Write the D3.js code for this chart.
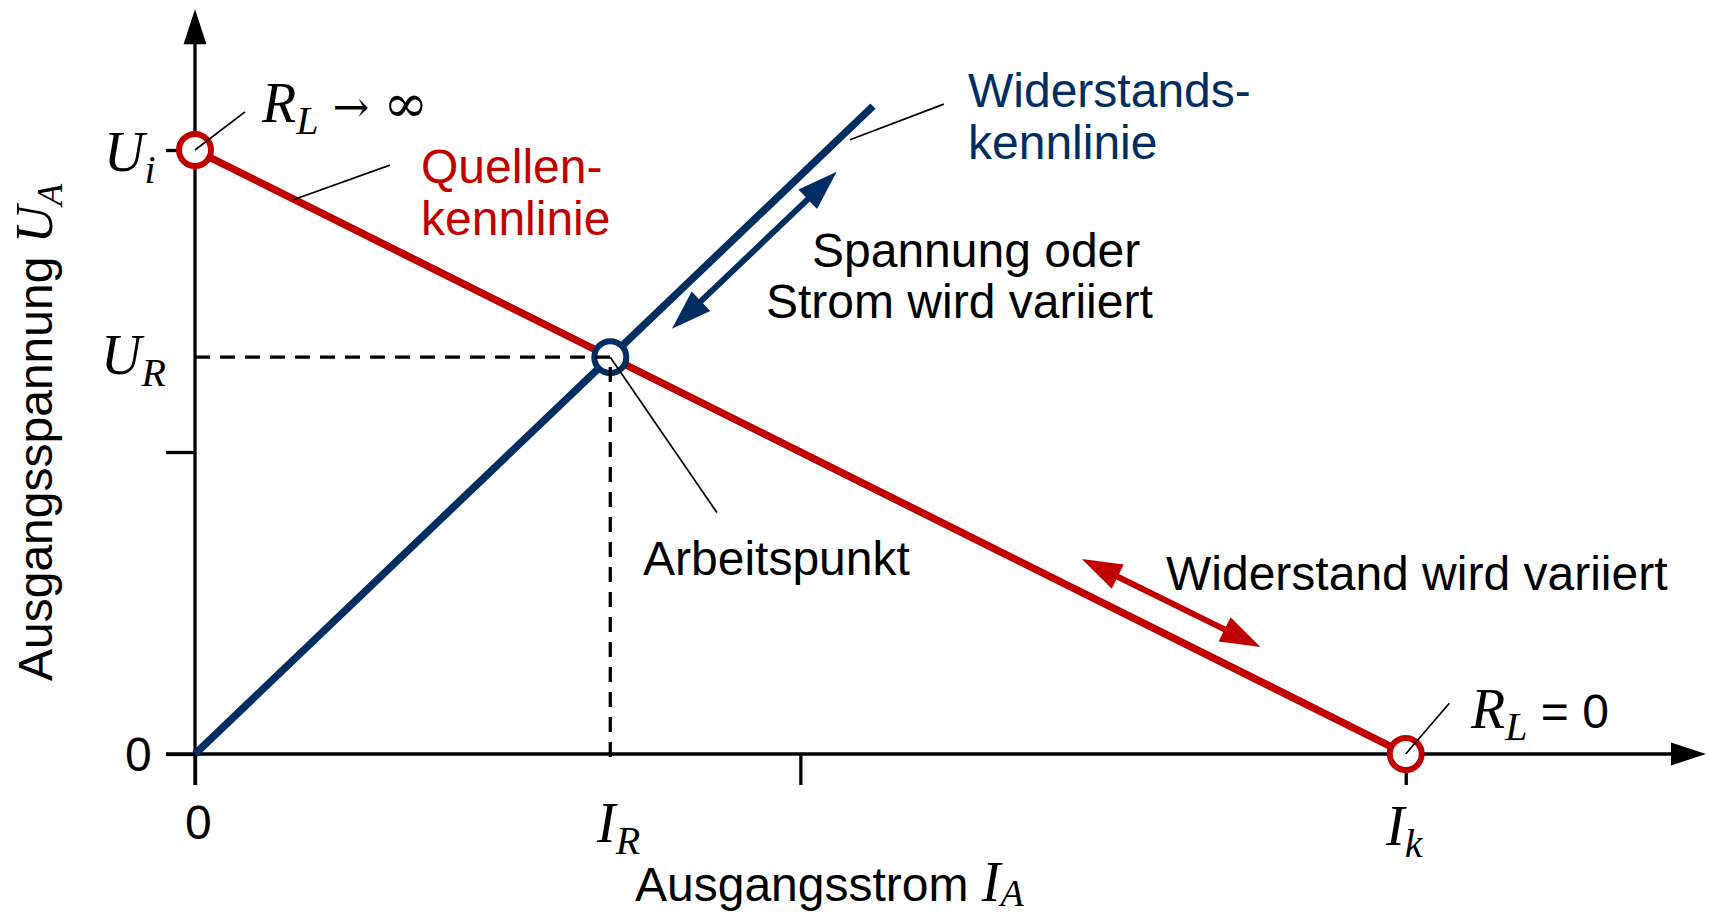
<!DOCTYPE html>
<html><head><meta charset="utf-8">
<script src="https://cdn.jsdelivr.net/npm/d3@7"></script>
<style>body{margin:0;background:#fff;overflow:hidden}</style>
</head><body>
<script>
// ---- data (normalised units: I / I_k, U / U_i) ----
const IR = 0.343, UR = 0.657;
const sourceLine = [[0, 1], [1, 0]];             // Quellenkennlinie
const loadLine = [[0, 0], [0.56, 0.56 * UR / IR]]; // Widerstandskennlinie
const operatingPoint = [IR, UR];                 // Arbeitspunkt
const limitPoints = [[0, 1], [1, 0]];            // R_L -> inf, R_L = 0
const xTickValues = [0, IR, 0.5, 1];
const xTickLabels = [[["0","sans"]], [["I","it"],["R","sub"]], [], [["I","it"],["k","sub"]]];
const yTickValues = [0, 0.5, UR, 1];
const yTickLabels = [[["0","sans"]], [], [["U","it"],["R","sub"]], [["U","it"],["i","sub"]]];
const blueArrow = [[0.394, 0.704], [0.530, 0.964]];
const redArrow = [[0.7325, 0.3228], [0.880, 0.177]];

const RED = "#c00000", BLUE = "#002d62";
const W = 1709, H = 917;
const svg = d3.select("body").append("svg").attr("width", W).attr("height", H);

const x = d3.scaleLinear().domain([0, 1.248]).range([195, 1706]);
const y = d3.scaleLinear().domain([0, 1]).range([754, 150]);

const SANS = "'Liberation Sans', Arial, sans-serif";
const SERIF = "'Liberation Serif', 'Times New Roman', serif";

function rich(px, py, parts, opts = {}) {
  const t = svg.append("text").attr("x", px).attr("y", py)
    .attr("fill", opts.fill || "#000").attr("font-family", SANS).attr("font-size", 48);
  if (opts.transform) t.attr("transform", opts.transform);
  const itSize = opts.itSize || 56, subSize = opts.subSize || 40, subDy = opts.subDy || 12;
  let off = 0;
  parts.forEach(([s, k]) => {
    const sp = t.append("tspan").text(s);
    let target = 0;
    if (k === "it") sp.attr("font-family", SERIF).attr("font-style", "italic").attr("font-size", itSize);
    else if (k === "sub") { sp.attr("font-family", SERIF).attr("font-style", "italic").attr("font-size", subSize); target = subDy; }
    else if (k === "sym") sp.attr("font-family", "'DejaVu Serif', serif").attr("font-size", 44);
    else if (k === "inf") sp.attr("font-family", "'DejaVu Serif', serif").attr("font-size", 54);
    else sp.attr("font-family", SANS).attr("font-size", 48);
    if (target !== off) { sp.attr("dy", target - off); off = target; }
  });
  return t;
}

function head(tip, from, len, wid, color) {
  const dx = tip[0] - from[0], dy = tip[1] - from[1];
  const L = Math.hypot(dx, dy), ux = dx / L, uy = dy / L;
  const bx = tip[0] - ux * len, by = tip[1] - uy * len;
  svg.append("path").attr("fill", color)
    .attr("d", `M${tip[0]},${tip[1]}L${bx - uy * wid / 2},${by + ux * wid / 2}L${bx + uy * wid / 2},${by - ux * wid / 2}Z`);
}

function doubleArrow(a, color) {
  const p0 = [x(a[0][0]), y(a[0][1])], p1 = [x(a[1][0]), y(a[1][1])];
  const dx = p1[0] - p0[0], dy = p1[1] - p0[1], L = Math.hypot(dx, dy);
  const ux = dx / L, uy = dy / L, hl = 40;
  svg.append("line").attr("x1", p0[0] + ux * (hl - 4)).attr("y1", p0[1] + uy * (hl - 4))
    .attr("x2", p1[0] - ux * (hl - 4)).attr("y2", p1[1] - uy * (hl - 4))
    .attr("stroke", color).attr("stroke-width", 6);
  head(p0, p1, hl, 27, color);
  head(p1, p0, hl, 27, color);
}

// ---- axes ----
const xAxisG = svg.append("g").attr("transform", `translate(0,${y(0)})`)
  .call(d3.axisBottom(x).tickValues([0, 0.5, 1]).tickSize(31).tickFormat(""));
xAxisG.select(".domain").remove();
xAxisG.selectAll(".tick line").attr("stroke", "#000").attr("stroke-width", 3.3);

const yAxisG = svg.append("g").attr("transform", `translate(${x(0)},0)`)
  .call(d3.axisLeft(y).tickValues([0, 0.5, 1]).tickSize(29).tickFormat(""));
yAxisG.select(".domain").remove();
yAxisG.selectAll(".tick line").attr("stroke", "#000").attr("stroke-width", 3.3);

// axis lines with arrows
svg.append("line").attr("x1", x(0) - 29).attr("x2", x(1.248) - 30).attr("y1", y(0)).attr("y2", y(0))
  .attr("stroke", "#000").attr("stroke-width", 3.3);
head([x(1.248), y(0)], [x(0), y(0)], 35, 23, "#000");
svg.append("line").attr("x1", x(0)).attr("x2", x(0)).attr("y1", y(0) + 31).attr("y2", y(1.233) + 30)
  .attr("stroke", "#000").attr("stroke-width", 3.3);
head([x(0), y(1.233)], [x(0), y(0)], 35, 23, "#000");

// ---- characteristic lines ----
const line = d3.line().x(d => x(d[0])).y(d => y(d[1]));
svg.append("path").datum(sourceLine).attr("d", line).attr("stroke", RED).attr("stroke-width", 7.5).attr("fill", "none");
svg.append("path").datum(loadLine).attr("d", line).attr("stroke", BLUE).attr("stroke-width", 7.5).attr("fill", "none");

// points
svg.selectAll("circle.lim").data(limitPoints).join("circle").attr("class", "lim")
  .attr("cx", d => x(d[0])).attr("cy", d => y(d[1])).attr("r", 16)
  .attr("fill", "#fff").attr("stroke", RED).attr("stroke-width", 6);
svg.append("circle").attr("cx", x(operatingPoint[0])).attr("cy", y(operatingPoint[1])).attr("r", 16)
  .attr("fill", "#fff").attr("stroke", BLUE).attr("stroke-width", 6);

// dashed guides
svg.append("path").attr("d", `M${x(0)},${y(UR)}H${x(IR)}V${y(0) + 10}`)
  .attr("fill", "none").attr("stroke", "#000").attr("stroke-width", 3.3).attr("stroke-dasharray", "15,10");

// double arrows
doubleArrow(blueArrow, BLUE);
doubleArrow(redArrow, RED);

// leader lines
const leaders = [
  [[0, 1], [0.0413, 1.063]],
  [[0.0818, 0.918], [0.161, 0.975]],
  [[0.541, 1.017], [0.6185, 1.076]],
  [[IR, UR], [0.431, 0.400]],
  [[1, 0], [1.036, 0.084]]
];
leaders.forEach(l => svg.append("path").datum(l).attr("d", line)
  .attr("stroke", "#000").attr("stroke-width", 1.7).attr("fill", "none"));

// ---- tick labels ----
const xLabelPos = [[185, 839], [597, 842], null, [1386, 845]];
xTickLabels.forEach((p, i) => { if (p.length) rich(xLabelPos[i][0], xLabelPos[i][1], p); });
const yLabelPos = [[125, 771], null, [101, 374], [104, 171]];
yTickLabels.forEach((p, i) => { if (p.length) rich(yLabelPos[i][0], yLabelPos[i][1], p); });

// ---- axis titles ----
rich(635, 901, [["Ausgangsstrom ", "sans"], ["I", "it"], ["A", "sub"]], { subDy: 5, subSize: 38 });
rich(0, 0, [["Ausgangsspannung ", "sans"], ["U", "it"], ["A", "sub"]],
  { transform: "translate(52,681) rotate(-90)", itSize: 52, subSize: 36, subDy: 10 });

// ---- annotations ----
rich(262, 122, [["R", "it"], ["L", "sub"], [" \u2192 ", "sym"], ["\u221E", "inf"]]);
rich(1471, 728, [["R", "it"], ["L", "sub"], [" = 0", "sans"]]);
rich(421, 183, [["Quellen-", "sans"]], { fill: RED });
rich(421, 235, [["kennlinie", "sans"]], { fill: RED });
rich(968, 107, [["Widerstands-", "sans"]], { fill: BLUE });
rich(968, 159, [["kennlinie", "sans"]], { fill: BLUE });
rich(812, 267, [["Spannung oder", "sans"]]);
rich(766, 318, [["Strom wird variiert", "sans"]]);
rich(643, 575, [["Arbeitspunkt", "sans"]]);
rich(1166, 590, [["Widerstand wird variiert", "sans"]]);
</script>
</body></html>
